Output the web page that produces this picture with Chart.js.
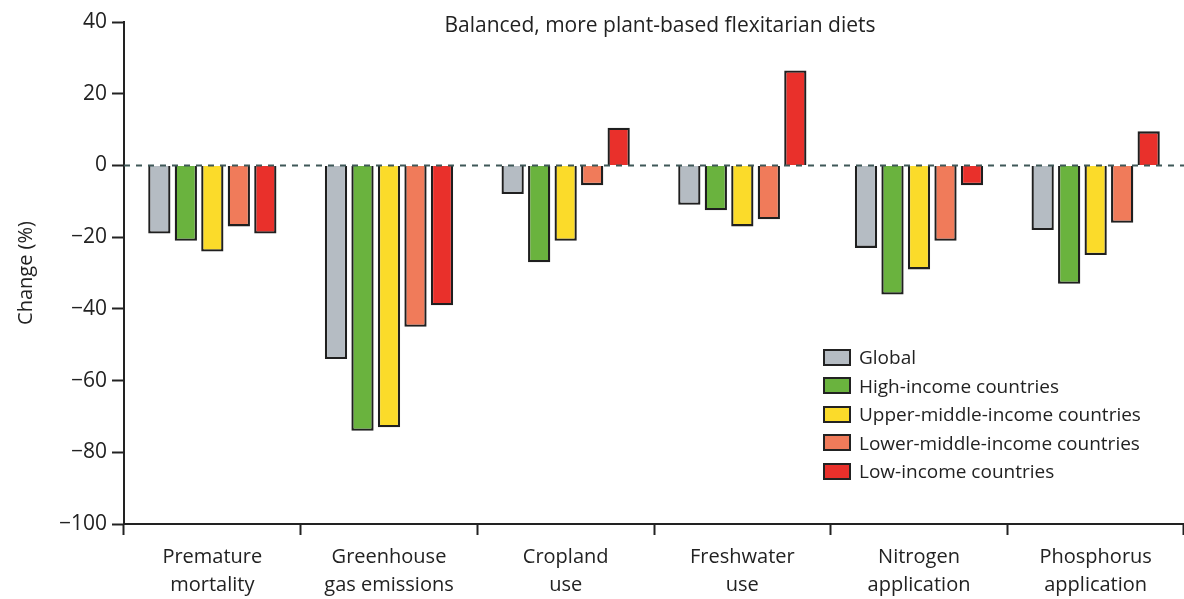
<!DOCTYPE html>
<html lang="en">
<head>
  <meta charset="UTF-8" />
  <title>Balanced, more plant-based flexitarian diets</title>
  <script src="https://cdn.jsdelivr.net/npm/chart.js"></script>
  <style>
    * { margin: 0; padding: 0; box-sizing: border-box; }
    body { background: #fff; font-family: 'Open Sans', sans-serif; }
    .wrap { position: relative; width: 1184px; height: 599px; }
    #legend {
      position: absolute;
      left: 823px;
      top: 343px;
      list-style: none;
      font-size: 19px;
      color: #222;
    }
    #legend li { height: 28.5px; display: flex; align-items: center; }
    #legend span.box {
      width: 28px;
      height: 17px;
      border: 2px solid #222;
      margin-right: 8px;
    }
  </style>
</head>
<body>
  <div class="wrap">
    <canvas id="chart" width="1184" height="599"></canvas>
    <ul id="legend"></ul>
  </div>

  <script>
    const categories = [
      ["Premature", "mortality"],
      ["Greenhouse", "gas emissions"],
      ["Cropland", "use"],
      ["Freshwater", "use"],
      ["Nitrogen", "application"],
      ["Phosphorus", "application"]
    ];

    const seriesNames = [
      "Global",
      "High-income countries",
      "Upper-middle-income countries",
      "Lower-middle-income countries",
      "Low-income countries"
    ];

    const globalVals = [-19, -54, -8, -11, -23, -18];
    const highIncome = [-21, -74, -27, -12.5, -36, -33];
    const upperMiddle = [-24, -73, -21, -17, -29, -25];
    const lowerMiddle = [-17, -45, -5.5, -15, -21, -16];
    const lowIncome = [-19, -39, 10.5, 26.5, -5.5, 9.5];

    const yTicks = [40, 20, 0, -20, -40, -60, -80, -100];

    const colors = ["#b5bcc3", "#6ab33e", "#fbdb2a", "#f07b5a", "#e9302b"];
    const allValues = [globalVals, highIncome, upperMiddle, lowerMiddle, lowIncome];

    // dashed zero line + title inside the plot
    const extras = {
      id: "extras",
      afterDatasetsDraw(chart) {
        const { ctx, chartArea, scales } = chart;
        const y0 = scales.y.getPixelForValue(0);
        ctx.save();
        ctx.strokeStyle = "#3f5858";
        ctx.lineWidth = 2;
        ctx.setLineDash([6, 6]);
        ctx.beginPath();
        ctx.moveTo(chartArea.left, y0);
        ctx.lineTo(chartArea.right, y0);
        ctx.stroke();
        ctx.restore();

        ctx.save();
        ctx.fillStyle = "#222";
        ctx.font = "21px 'Open Sans', sans-serif";
        ctx.textAlign = "center";
        ctx.textBaseline = "middle";
        ctx.fillText("Balanced, more plant-based flexitarian diets", 660, 26);
        ctx.restore();
      }
    };

    const datasets = seriesNames.map((name, i) => ({
      label: name,
      data: allValues[i],
      backgroundColor: colors[i],
      borderColor: "#1f1f1f",
      borderWidth: 2.3,
      categoryPercentage: 0.75,
      barPercentage: 0.84
    }));

    new Chart(document.getElementById("chart"), {
      type: "bar",
      data: { labels: categories, datasets: datasets },
      plugins: [extras],
      options: {
        responsive: false,
        animation: false,
        layout: { padding: { top: 22, right: 0, bottom: 0, left: 0 } },
        plugins: {
          legend: { display: false },
          tooltip: { enabled: false }
        },
        scales: {
          x: {
            grid: {
              offset: true,
              drawOnChartArea: false,
              tickLength: 11,
              tickColor: "#222",
              tickWidth: 2
            },
            border: { color: "#222", width: 2 },
            ticks: {
              color: "#222",
              font: { family: "'Open Sans', sans-serif", size: 20, lineHeight: 1.4 },
              padding: 8,
              maxRotation: 0
            },
            afterFit(scale) { scale.height = 75; }
          },
          y: {
            min: -100,
            max: 40,
            afterBuildTicks(scale) {
              scale.ticks = yTicks.map(v => ({ value: v }));
            },
            grid: {
              drawOnChartArea: false,
              tickLength: 12,
              tickColor: "#222",
              tickWidth: 2
            },
            border: { color: "#222", width: 2 },
            ticks: {
              color: "#222",
              font: { family: "'Open Sans', sans-serif", size: 21 },
              padding: 5,
              callback: v => (v < 0 ? "\u2212" + Math.abs(v) : v)
            },
            title: {
              display: true,
              text: "Change (%)",
              color: "#222",
              font: { family: "'Open Sans', sans-serif", size: 20 },
              padding: { top: 14, bottom: 4 }
            },
            afterFit(scale) { scale.width = 124; }
          }
        }
      }
    });

    const legend = document.getElementById("legend");
    seriesNames.forEach((name, i) => {
      const li = document.createElement("li");
      li.innerHTML = '<span class="box" style="background:' + colors[i] + '"></span>' + name;
      legend.appendChild(li);
    });
  </script>
</body>
</html>
